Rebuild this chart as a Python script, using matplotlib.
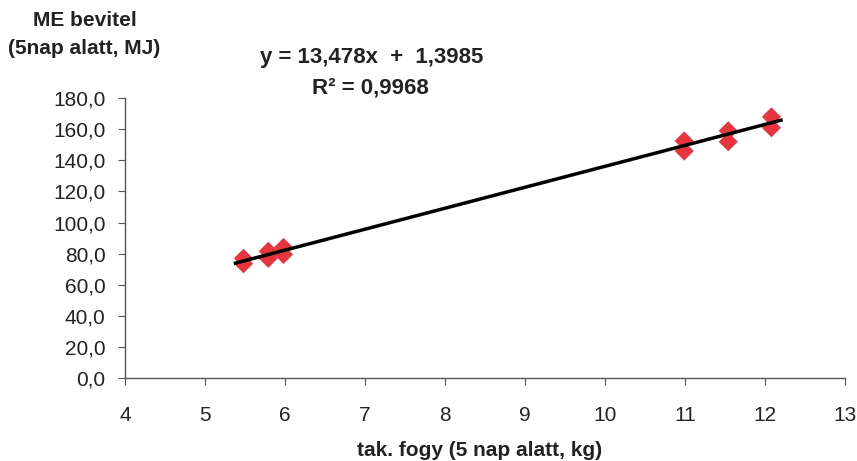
import matplotlib
matplotlib.use("Agg")
import matplotlib.pyplot as plt
import numpy as np
from matplotlib.ticker import FuncFormatter, MultipleLocator

plt.rcParams['font.family'] = ['Liberation Sans', 'DejaVu Sans']

# data: weight loss (kg over 5 days) vs ME intake (MJ over 5 days)
x_vals = [5.48, 5.48, 5.79, 5.79, 5.98, 5.98, 10.99, 10.99, 11.54, 11.54, 12.08, 12.08]
y_vals = [77.0, 73.5, 81.5, 77.0, 84.0, 79.5, 152.5, 146.0, 159.0, 152.0, 168.0, 161.0]
slope = 13.478
intercept = 1.3985
r2 = 0.9968

fig = plt.figure(figsize=(8.57, 4.61), dpi=100)
ax = fig.add_axes([0.146, 0.18, 0.840, 0.607])

ax.scatter(x_vals, y_vals, marker='D', s=95, color='#e8343f', edgecolors='none', zorder=2)
xs = np.array([min(x_vals) - 0.1, max(x_vals) + 0.12])
ax.plot(xs, slope * xs + intercept, color='black', lw=2.5, zorder=3)

ax.set_xlim(4, 13)
ax.set_ylim(0, 180)
ax.xaxis.set_major_locator(MultipleLocator(1))
ax.yaxis.set_major_locator(MultipleLocator(20))
ax.yaxis.set_major_formatter(FuncFormatter(lambda v, p: f"{v:.1f}".replace('.', ',')))
for s in ['top', 'right']:
    ax.spines[s].set_visible(False)
for s in ['left', 'bottom']:
    ax.spines[s].set_color('#555555')
    ax.spines[s].set_linewidth(1.0)
ax.tick_params(axis='both', direction='out', length=5, color='#555555', labelsize=15, colors='#222222')
ax.tick_params(axis='x', pad=15)
ax.tick_params(axis='y', pad=9)

fig.text(85/857, 1 - 20/461, 'ME bevitel', ha='center', va='center', fontsize=15, fontweight='bold', color='#222222')
fig.text(84/857, 1 - 48/461, '(5nap alatt, MJ)', ha='center', va='center', fontsize=15, fontweight='bold', color='#222222')
fig.text(372/857, 1 - 57/461, f'y = {slope:.3f}x  +  {intercept:.4f}'.replace('.', ','), ha='center', va='center',
         fontsize=16, fontweight='bold', color='#222222')
fig.text(370/857, 1 - 88/461, f'R² = {r2:.4f}'.replace('.', ','), ha='center', va='center',
         fontsize=16, fontweight='bold', color='#222222')
fig.text(480/857, 1 - 450/461, 'tak. fogy (5 nap alatt, kg)', ha='center', va='center', fontsize=15,
         fontweight='bold', color='#222222')

fig.savefig('out.png', dpi=100)
